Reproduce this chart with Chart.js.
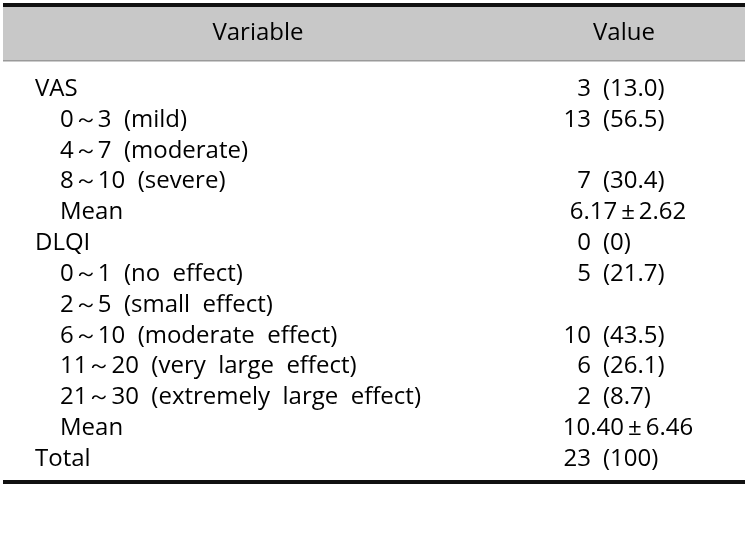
<!DOCTYPE html>
<html>
<head>
<meta charset="utf-8">
<script src="https://cdn.jsdelivr.net/npm/chart.js@4.4.0/dist/chart.umd.min.js"></script>
<style>
  html, body { margin: 0; padding: 0; background: #fff; }
  #wrap { width: 748px; height: 541px; position: relative; }
</style>
</head>
<body>
<div id="wrap"><canvas id="tableChart"></canvas></div>
<script>
// ===== TABLE DATA =====
const headers = ['Variable', 'Value'];
const rowLabels = [
    'VAS',
    '0～3  (mild)',
    '4～7  (moderate)',
    '8～10  (severe)',
    'Mean',
    'DLQI',
    '0～1  (no  effect)',
    '2～5  (small  effect)',
    '6～10  (moderate  effect)',
    '11～20  (very  large  effect)',
    '21～30  (extremely  large  effect)',
    'Mean',
    'Total'
];
const indentLevels = [0, 1, 1, 1, 1, 0, 1, 1, 1, 1, 1, 1, 0];
const counts = [3, 13, null, 7, null, 0, 5, null, 10, 6, 2, null, 23];
const percents = ['13.0', '56.5', null, '30.4', null, '0', '21.7', null, '43.5', '26.1', '8.7', null, '100'];
const means = [null, null, null, null, '6.17\u2009±\u20092.62', null, null, null, null, null, null, '10.40\u2009±\u20096.46', null];

const FONT = '24px "Open Sans", sans-serif';

// ===== TABLE PLUGIN =====
const tablePlugin = {
    id: 'tableDraw',
    afterDraw(chart) {
        const ctx = chart.ctx;
        const x = chart.scales.x;
        const y = chart.scales.y;
        const left = x.getPixelForValue(3);
        const width = x.getPixelForValue(745) - left;
        ctx.save();

        // header band + rules
        ctx.fillStyle = '#c8c8c8';
        ctx.fillRect(left, 7, width, 54);
        ctx.fillStyle = '#111';
        ctx.fillRect(left, 3, width, 4);
        ctx.fillStyle = '#9a9a9a';
        ctx.fillRect(left, 60, width, 1.5);
        ctx.fillStyle = '#111';
        ctx.fillRect(left, 480, width, 4);

        ctx.font = FONT;
        ctx.fillStyle = '#000';
        ctx.textBaseline = 'middle';
        ctx.textAlign = 'center';
        ctx.fillText(headers[0], x.getPixelForValue(258), 33);
        ctx.fillText(headers[1], x.getPixelForValue(624), 33);

        rowLabels.forEach((label, i) => {
            const py = y.getPixelForValue(i);
            ctx.textAlign = 'left';
            ctx.fillText(label, x.getPixelForValue(indentLevels[i] ? 60 : 35), py);

            if (counts[i] !== null) {
                ctx.textAlign = 'right';
                ctx.fillText(String(counts[i]), x.getPixelForValue(591), py);
                ctx.textAlign = 'left';
                ctx.fillText('(' + percents[i] + ')', x.getPixelForValue(603), py);
            } else if (means[i] !== null) {
                ctx.textAlign = 'center';
                ctx.fillText(means[i], x.getPixelForValue(628), py);
            }
        });
        ctx.restore();
    }
};

new Chart(document.getElementById('tableChart'), {
    type: 'bar',
    data: {
        labels: rowLabels,
        datasets: [{ data: [], backgroundColor: 'transparent' }]
    },
    options: {
        responsive: true,
        maintainAspectRatio: false,
        animation: false,
        indexAxis: 'y',
        layout: { padding: { top: 73.6, bottom: 66.6, left: 0, right: 0 } },
        plugins: { legend: { display: false }, tooltip: { enabled: false } },
        scales: {
            x: { type: 'linear', min: 0, max: 748, display: false },
            y: { type: 'category', offset: true, display: false }
        }
    },
    plugins: [tablePlugin]
});
</script>
</body>
</html>
